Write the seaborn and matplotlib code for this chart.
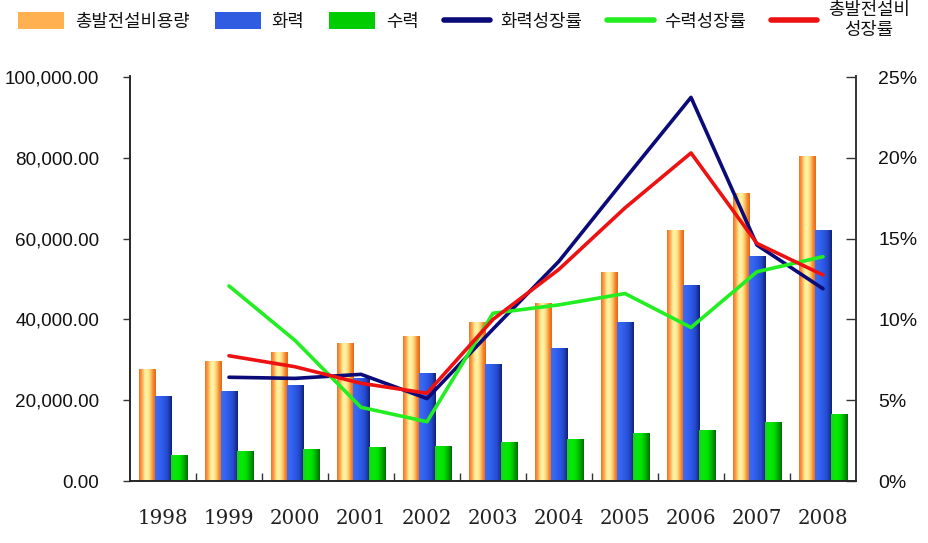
import numpy as np
import pandas as pd
import matplotlib
matplotlib.use("Agg")
import matplotlib.pyplot as plt
import seaborn as sns
from matplotlib.colors import LinearSegmentedColormap
from matplotlib.lines import Line2D
from matplotlib.patches import Patch
from matplotlib.ticker import FuncFormatter, FixedLocator

# ---------------- data ----------------
years = ["1998", "1999", "2000", "2001", "2002", "2003", "2004", "2005", "2006", "2007", "2008"]
total_cap = [27600, 29800, 32000, 34200, 35900, 39400, 44150, 51700, 62100, 71350, 80400]
thermal_cap = [21000, 22400, 23700, 25600, 26700, 28900, 32800, 39400, 48500, 55600, 62100]
hydro_cap = [6550, 7400, 7900, 8300, 8700, 9600, 10500, 11800, 12600, 14500, 16700]

growth_years = ["1999", "2000", "2001", "2002", "2003", "2004", "2005", "2006", "2007", "2008"]
thermal_growth = [6.42, 6.35, 6.6, 5.1, 9.4, 13.6, 18.7, 23.74, 14.6, 11.9]
hydro_growth = [12.07, 8.7, 4.56, 3.67, 10.38, 10.9, 11.6, 9.5, 12.95, 13.88]
total_growth = [7.75, 7.07, 6.05, 5.43, 10.0, 13.1, 16.9, 20.3, 14.7, 12.75]

bar_names = ["총발전설비용량", "화력", "수력"]
line_names = ["화력성장률", "수력성장률", "총발전설비\n성장률"]
left_ticks = [0, 20000, 40000, 60000, 80000, 100000]
right_ticks = [0, 5, 10, 15, 20, 25]

# ---------------- styling ----------------
sns.set_theme(style="white")
plt.rcParams["font.family"] = ["Liberation Sans", "DejaVu Sans"]

grad_cmaps = [
    LinearSegmentedColormap.from_list("og", ["#F07228", "#FFA048", "#FFEE98", "#FFF4A8", "#FFD070", "#F58A30", "#E86418"]),
    LinearSegmentedColormap.from_list("bl", ["#3A6CF8", "#3464F0", "#2C58E4", "#2448C8", "#10207A"]),
    LinearSegmentedColormap.from_list("gr", ["#18D018", "#08EA08", "#00E400", "#00B400", "#006A00"]),
]
legend_face = ["#FFB050", "#2F5CE0", "#00CC00"]
line_colors = ["#0A0A78", "#22EE22", "#EE1111"]

fig = plt.figure(figsize=(9.29, 5.43), dpi=100)
ax = fig.add_axes([130 / 929, 1 - 481 / 543, 726 / 929, (481 - 76) / 543])

df = pd.DataFrame({
    "year": years * 3,
    "value": total_cap + thermal_cap + hydro_cap,
    "series": [bar_names[0]] * len(years) + [bar_names[1]] * len(years) + [bar_names[2]] * len(years),
})
sns.barplot(data=df, x="year", y="value", hue="series", order=years, hue_order=bar_names,
            width=0.73, gap=0, dodge=True, ax=ax, legend=False, errorbar=None,
            palette=legend_face, linewidth=0, saturation=1)

# gradient fill for each bar
grad = np.linspace(0, 1, 64).reshape(1, -1)
for cont, cmap in zip(ax.containers, grad_cmaps):
    for bar in cont:
        x0, y0 = bar.get_x(), bar.get_y()
        w, h = bar.get_width(), bar.get_height()
        bar.set_facecolor("none")
        im = ax.imshow(grad, cmap=cmap, extent=[x0, x0 + w, y0, y0 + h], aspect="auto",
                       interpolation="bicubic", zorder=bar.get_zorder())
        im.set_clip_path(bar)
ax.set_xlim(-0.5, len(years) - 0.5)
ax.set_ylim(0, 100000 * (481 - 76) / (481 - 77))

ax.set_xlabel("")
ax.set_ylabel("")
ax.yaxis.set_major_locator(FixedLocator(left_ticks))
ax.yaxis.set_major_formatter(FuncFormatter(lambda v, p: f"{v:,.2f}"))
ax.tick_params(axis="y", direction="out", length=5, width=1, color="#333333", pad=17,
               labelsize=13.6, labelcolor="#111111", left=True)
ax.set_xticks(range(len(years)))
ax.set_xticklabels(years, fontfamily="DejaVu Serif", fontsize=14.3, color="#222222")
ax.set_xticks(np.arange(0.5, len(years) - 1, 1.0), minor=True)
ax.tick_params(axis="x", which="major", length=0, pad=20)
ax.tick_params(axis="x", which="minor", direction="in", length=6, width=1, color="#333333", bottom=True)
ax.spines["top"].set_visible(False)
for s in ["left", "bottom", "right"]:
    ax.spines[s].set_color("#333333")
    ax.spines[s].set_linewidth(1.2)

# growth rate lines on twin axis
ax2 = ax.twinx()
pos = [years.index(y) for y in growth_years]
for vals, col in zip([thermal_growth, hydro_growth, total_growth], line_colors):
    sns.lineplot(x=pos, y=vals, ax=ax2, color=col, linewidth=2.6, sort=False, legend=False)
ax2.set_ylim(0, 25 * (481 - 76) / (481 - 77))
ax2.set_xlim(-0.5, len(years) - 0.5)
ax2.yaxis.set_major_locator(FixedLocator(right_ticks))
ax2.yaxis.set_major_formatter(FuncFormatter(lambda v, p: f"{v:.0f}%"))
ax2.tick_params(axis="y", direction="in", length=7, width=1, color="#333333", pad=16,
                labelsize=14, labelcolor="#111111", right=True)
ax2.spines["top"].set_visible(False)
ax2.spines["right"].set_color("#333333")
ax2.spines["right"].set_linewidth(1.2)
ax2.set_ylabel("")

# legend
handles = [Patch(facecolor=c, edgecolor="none") for c in legend_face] + \
          [Line2D([0], [0], color=c, linewidth=4) for c in line_colors]
labels = bar_names + line_names
leg = fig.legend(handles, labels, loc="center left", bbox_to_anchor=(0.012, 1 - 20 / 543, 0.975, 0),
                 mode="expand", ncol=6, frameon=False, handlelength=2.6, handleheight=1.1,
                 handletextpad=0.6, columnspacing=1.5, borderaxespad=0,
                 prop={"family": ["Noto Sans CJK KR", "DejaVu Sans"], "size": 12.8})
for t in leg.get_texts():
    t.set_multialignment("center")
    t.set_color("#111111")

fig.savefig("out.png", dpi=100, facecolor="white")
